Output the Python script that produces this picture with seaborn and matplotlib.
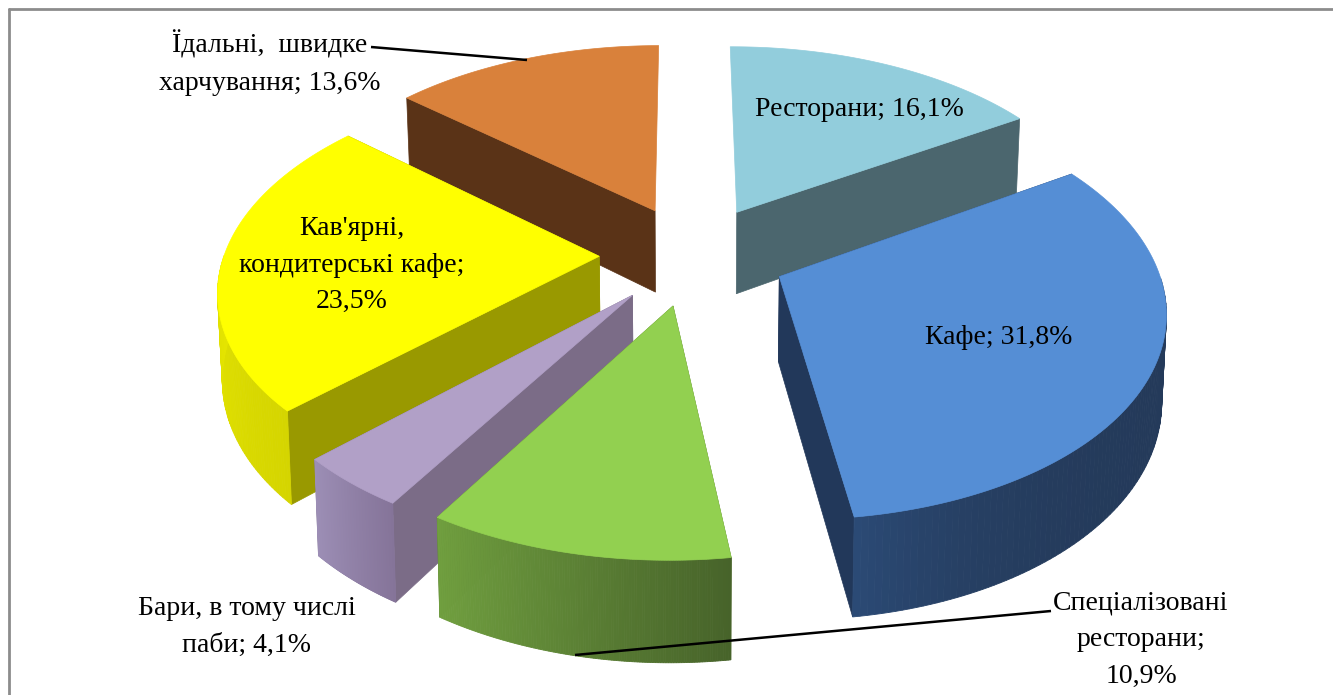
import numpy as np
import pandas as pd
import seaborn as sns
import matplotlib
matplotlib.use("Agg")
import matplotlib.pyplot as plt
from matplotlib.colors import to_rgb
from matplotlib.patches import Polygon

# data
categorias = ["Ресторани", "Кафе", "Спеціалізовані ресторани", "Бари, в тому числі паби",
              "Кав'ярні, кондитерські кафе", "Їдальні, швидке харчування"]
valores = [16.1, 31.8, 10.9, 4.1, 23.5, 13.6]
textos = ["Ресторани; 16,1%", "Кафе; 31,8%", "Спеціалізовані\nресторани;\n10,9%",
          "Бари, в тому числі\nпаби; 4,1%", "Кав'ярні,\nкондитерські кафе;\n23,5%",
          "Їдальні,  швидке\nхарчування; 13,6%"]

cores_topo = ["#92cddc", "#558ed5", "#92d050", "#b1a0c7", "#ffff00", "#d9813b"]
cores_raio = ["#4b666e", "#22385a", "#4f6b2b", "#7b6c87", "#999900", "#5a3317"]
cores_lado = [("#4b666e", "#4b666e"), ("#243a5a", "#2b4a75"), ("#47632a", "#709f3f"),
              ("#857499", "#9c8eb5"), ("#d5d500", "#f4f400"), ("#5a3317", "#5a3317")]
curva_lado = [1, 7, 1, 1, 1, 1]
# quais paredes radiais aparecem (0 = inicio, -1 = fim da fatia)
paredes_raio = [(-1,), (0, -1), (0, -1), (0, -1), (0, -1), (0,)]
pos_texto = [(859, 109), (999, 337), (1141, 640), (247, 627), (352, 265), (270, 63)]

# geometria do pseudo 3D
CX, CY = 693, 255
RX, RY = 375, 201
PERSP = 0.145
EXPLODE = 0.25
ALTURA = 84
INICIO = -0.2

sns.set_theme(style="white")
plt.rcParams["font.family"] = ["Liberation Serif", "DejaVu Serif"]


def ponto(u, v, baixo=False):
    d = 1 - PERSP * v
    x = CX + RX * u / d
    y = CY + RY * v / d
    if baixo:
        x = CX + (x - CX) * 0.99
        y = y + ALTURA / d
    return x, y


def mistura(c1, c2, t):
    a, b = np.array(to_rgb(c1)), np.array(to_rgb(c2))
    return tuple(a + (b - a) * t)


df = pd.DataFrame({"categoria": categorias, "valor": valores})
df["ini"] = INICIO + df["valor"].cumsum().shift(fill_value=0) * 3.6
df["fim"] = INICIO + df["valor"].cumsum() * 3.6
df["meio"] = np.radians((df["ini"] + df["fim"]) / 2)
df["du"] = EXPLODE * np.sin(df["meio"])
df["dv"] = -EXPLODE * np.cos(df["meio"])

fig, ax = plt.subplots(figsize=(13.33, 6.95), dpi=100)
fig.subplots_adjust(0, 0, 1, 1)
ax.set_xlim(0, 1333)
ax.set_ylim(695, 0)
ax.axis("off")

# moldura
ax.plot([9, 9], [695, 9], color="#8c8c8c", lw=2)
ax.plot([9, 1333], [9, 9], color="#8c8c8c", lw=2)

# de tras para a frente
for i in df.sort_values("dv").index:
    s = df.loc[i]
    ang = np.radians(np.linspace(s["ini"], s["fim"], 120))
    tu, tv = s["du"], s["dv"]
    us = tu + np.sin(ang)
    vs = tv - np.cos(ang)
    lado0, lado1 = cores_lado[i]

    def parede(sel):
        for j in sel:
            a = ponto(us[j], vs[j])
            b = ponto(us[j + 1], vs[j + 1])
            c = ponto(us[j + 1], vs[j + 1], True)
            d = ponto(us[j], vs[j], True)
            cor = mistura(lado0, lado1, (j / (len(us) - 2)) ** curva_lado[i])
            ax.add_patch(Polygon([a, b, c, d], closed=True, fc=cor, ec=cor, lw=0.6))

    # a parede externa de tras fica escondida pelo topo
    frente = [j for j in range(len(us) - 1) if vs[j] >= tv]

    # paredes radiais
    for k in paredes_raio[i]:
        quad = [ponto(tu, tv), ponto(us[k], vs[k]),
                ponto(us[k], vs[k], True), ponto(tu, tv, True)]
        ax.add_patch(Polygon(quad, closed=True, fc=cores_raio[i], ec=cores_raio[i], lw=0.5))

    parede(frente)

    # topo
    topo = [ponto(tu, tv)] + [ponto(u, v) for u, v in zip(us, vs)]
    ax.add_patch(Polygon(topo, closed=True, fc=cores_topo[i], ec=cores_topo[i], lw=0.5))

# linhas de chamada
ax.plot([371, 527], [47, 60], color="black", lw=1.8, solid_capstyle="butt")
ax.plot([575, 1051], [655, 611], color="black", lw=1.8, solid_capstyle="butt")

for txt, (x, y) in zip(textos, pos_texto):
    ax.text(x, y, txt, ha="center", va="center", fontsize=20, color="black", linespacing=1.62)

fig.savefig("out.png", dpi=100)
